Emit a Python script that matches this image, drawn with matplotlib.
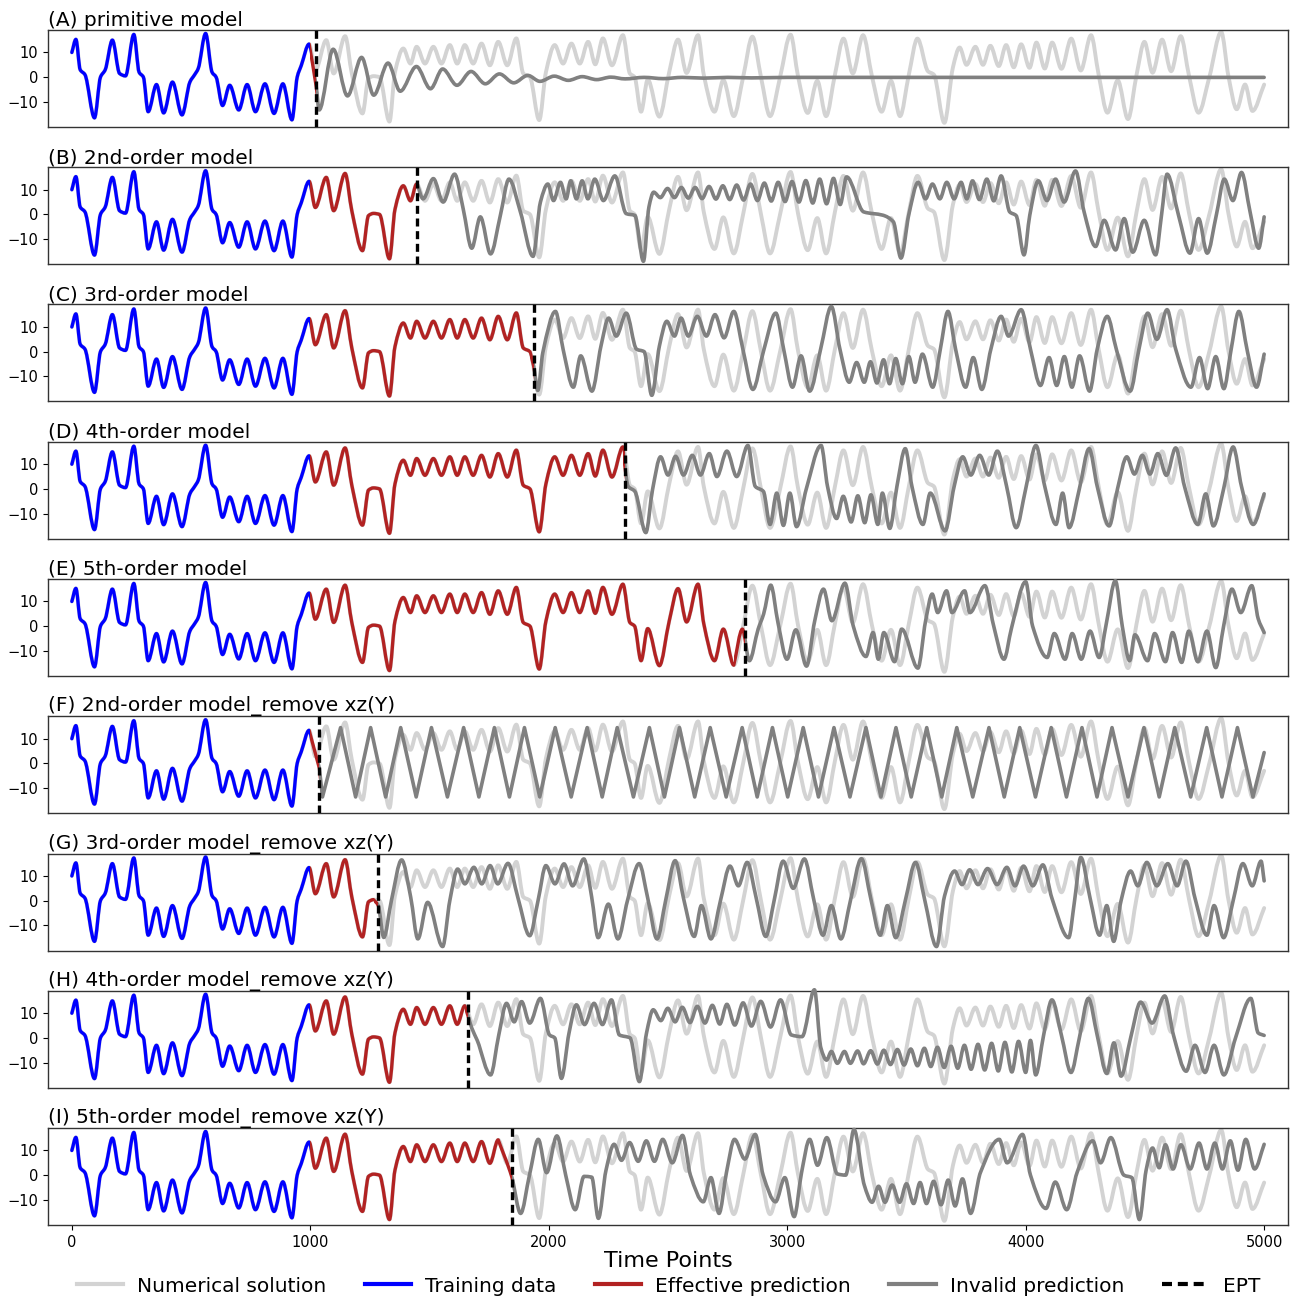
import numpy as np
import matplotlib.pyplot as plt
from matplotlib.patches import Rectangle, PathPatch
from matplotlib.path import Path
from matplotlib.lines import Line2D

# numerical solution, as (time, value) turning points
truth = [(0, 10), (17, 15.3), (35, 3), (55, 1), (95, -16.5), (120, 0), (140, 3), (170, 15), (200, 1.5), (225, 0.5),
         (260, 17.3), (282, 2), (300, 0), (320, -14), (355, -3), (385, -14.5), (422, -2), (462, -15.3), (495, -2),
         (515, 1), (530, 3.5), (561, 17.7), (588, 2), (605, 0), (632, -11.5), (662, -3.3), (700, -13.3), (735, -3),
         (770, -14), (810, -2.7), (848, -14.7), (885, -2.7), (923, -17.3), (945, 0), (962, 4.7), (995, 13.4),
         (1021, 2.8), (1067, 15), (1098, 1.5), (1146, 16.6), (1174, 1.5), (1219, -14.7), (1244, -0.5), (1265, 0.4),
         (1290, 0), (1332, -18), (1355, 2), (1390, 11.6), (1420, 5.5), (1446, 12.3), (1481, 5.5), (1516, 12.3),
         (1550, 5.5), (1585, 13), (1616, 5.5), (1648, 13), (1683, 5.5), (1718, 13.6), (1753, 4.8), (1788, 14.3),
         (1826, 4.8), (1864, 15.7), (1893, 1.5), (1921, 0), (1960, -17.4), (1988, 2), (2025, 13), (2060, 5.5),
         (2095, 13.6), (2130, 5.5), (2165, 14.3), (2195, 5.2), (2227, 15.7), (2265, 4.8), (2311, 17), (2340, 1.5),
         (2360, 0), (2387, -14), (2415, -1), (2464, -16), (2505, 2), (2542, 15.2), (2578, 1.7), (2626, 17),
         (2650, 1), (2695, -14), (2732, -1.2), (2776, -15.8), (2815, 0), (2854, 16.4), (2890, 0), (2928, -15.8),
         (2970, 0), (3014, 17.2), (3045, 0.5), (3086, -14.5), (3126, -1.5), (3163, -15.8), (3200, 1), (3236, 15.6),
         (3275, 1.5), (3318, 17), (3355, 0.5), (3396, -14), (3435, -1.5), (3473, -15.8), (3510, 1), (3546, 15.6),
         (3590, 2.4), (3615, 1), (3659, -18.5), (3695, 4), (3723, 12), (3752, 5), (3789, 12.3), (3821, 5),
         (3852, 12.7), (3887, 4.5), (3918, 13), (3950, 4), (3981, 13.3), (4016, 3.8), (4045, 14), (4080, 3.5),
         (4111, 14), (4150, 3.4), (4191, 15.6), (4231, 2.7), (4274, 17), (4305, 1.5), (4343, -14.4), (4386, -1.3),
         (4429, -17), (4465, 1), (4498, 14.3), (4532, 1.8), (4572, 15.2), (4610, 2.4), (4650, 16.6), (4685, 0.5),
         (4725, -14.4), (4770, 0), (4820, 18.3), (4850, 0.5), (4885, -13), (4920, -3), (4951, -13.7), (5000, -3)]

# model predictions per panel, from the point where they leave the numerical solution
pred_a = [(995, 13.4), (1025, -4), (1037, -13.3), (1096, 11.3), (1156, -7.6), (1215, 8), (1266, -7.3), (1326, 5.7),
          (1377, -5.7), (1445, 4.3), (1504, -4.7), (1555, 3.3), (1615, -3.3), (1674, 2.3), (1734, -2.7), (1793, 1.3),
          (1853, -2.3), (1912, 0.7), (1963, -1.7), (2023, 0.4), (2082, -1.3), (2140, 0.2), (2201, -1), (2260, 0),
          (2320, -0.7), (2400, -0.1), (2480, -0.6), (2560, -0.1), (2650, -0.4), (2750, -0.1), (2850, -0.3),
          (3000, -0.1), (5000, -0.1)]

pred_b = [(1448, 12.3), (1473, 6.3), (1516, 14.5), (1557, 5), (1605, 16.3), (1641, 2.3), (1677, -13.7), (1713, -1),
          (1756, -16), (1797, -0.4), (1833, 14.3), (1881, 1), (1934, -17), (1965, 5), (1996, 12.3), (2020, 5.6),
          (2049, 13), (2073, 6.3), (2092, 13.6), (2116, 6.3), (2140, 13.6), (2164, 6.3), (2193, 14.3), (2229, 5.6),
          (2277, 15.6), (2325, 0.3), (2361, -0.4), (2397, -19), (2420, 3), (2440, 9), (2468, 6.8), (2498, 10.5),
          (2527, 6.8), (2556, 10.9), (2585, 6.6), (2614, 10.9), (2643, 6.4), (2672, 11.3), (2701, 6.2), (2730, 11.6),
          (2759, 6), (2788, 11.9), (2817, 5.8), (2846, 12.3), (2875, 5.6), (2904, 12.7), (2933, 5.4), (2962, 13),
          (2991, 5.2), (3020, 13.3), (3049, 5), (3078, 13.7), (3107, 4.6), (3136, 14.3), (3165, 4.3), (3194, 14.6),
          (3222, 4), (3249, 15.2), (3321, 1), (3400, -0.3), (3445, -3), (3477, -17.7), (3510, 0), (3549, 13),
          (3580, 6.3), (3609, 12.3), (3640, 6.3), (3669, 13), (3700, 6.3), (3729, 13), (3753, 6.3), (3777, 13.6),
          (3806, 6), (3837, 14.3), (3866, 5.5), (3897, 15.6), (3933, 1), (3960, -0.5), (3993, -16.4), (4017, -0.4),
          (4053, 13.6), (4089, 5.6), (4125, 14.3), (4161, 5), (4209, 17.6), (4245, 1), (4293, -13), (4329, -2.4),
          (4377, -14.4), (4413, -1.7), (4449, -15.3), (4497, -2.4), (4545, -16.4), (4570, 0), (4593, 16.3),
          (4641, -0.4), (4689, -15.7), (4725, -1.7), (4761, -15.7), (4800, 0), (4833, 14.3), (4869, 5.6),
          (4905, 17), (4941, 1), (4977, -13.7), (5000, -1)]

pred_c = [(1921, 0), (1937, -6), (1954, -15.7), (1975, -0.4), (2028, 16.3), (2060, 1), (2103, -14.4), (2134, -1.7),
          (2181, -16), (2219, 2.3), (2251, 13.6), (2283, 6.3), (2325, 15.6), (2368, 1), (2400, 0), (2432, -17.7),
          (2464, 2.3), (2495, 12.3), (2527, 6.3), (2555, 13.6), (2585, 6.3), (2623, 14.3), (2661, 6.3), (2697, 15),
          (2735, 5.6), (2776, 16.3), (2814, 1), (2856, -15.3), (2900, 0), (2952, 15.6), (2985, 1), (3022, -14.4),
          (3058, -1.7), (3094, -16), (3140, 1), (3185, 18.3), (3221, 1), (3260, -12.4), (3291, -4.4), (3323, -12.4),
          (3349, -4.1), (3376, -12.7), (3404, -3.3), (3429, -13), (3455, -2.8), (3483, -13), (3510, -2),
          (3536, -12.4), (3567, -1), (3610, -14.4), (3642, 1), (3674, 16.3), (3706, 1), (3748, -14.4), (3780, -2.4),
          (3816, -15.3), (3854, 1), (3897, 14.3), (3928, 6.3), (3981, 17), (4020, 1), (4062, -13.7), (4098, -2.4),
          (4130, -13.7), (4162, -2), (4194, -14.4), (4226, -1.7), (4268, -16), (4300, 1), (4342, 14.3), (4380, 1),
          (4438, -16), (4475, 1), (4512, 15.6), (4550, 5), (4593, 17), (4629, 1), (4693, -14.4), (4729, -2.4),
          (4763, -15), (4797, -2), (4831, -15), (4860, 0), (4894, 16.3), (4930, 0), (4968, -14.4), (5000, -1)]

pred_d = [(2311, 17), (2318, 10), (2333, 1), (2361, -1), (2407, -17.7), (2435, -0.4), (2469, 13), (2500, 5.6),
          (2532, 13.2), (2565, 5.6), (2602, 13.6), (2636, 5.6), (2673, 14.3), (2705, 5), (2747, 15.3), (2788, 5),
          (2835, 17.6), (2866, 1), (2900, -1), (2928, -14.4), (2956, -1.7), (2984, -14.8), (3011, -1.7),
          (3039, -15.3), (3080, 0), (3142, 17.6), (3169, 1), (3207, -12), (3235, -3), (3268, -13.4), (3296, -2.8),
          (3325, -13.7), (3351, -2.4), (3380, -14.4), (3399, -1.7), (3430, -16), (3460, 1), (3495, 16.3), (3523, 1),
          (3569, -14.4), (3600, -1.7), (3662, -17), (3700, 1), (3736, 13), (3770, 5.6), (3807, 13.6), (3845, 5.6),
          (3881, 15.3), (3920, 1), (3960, -15.7), (4000, 0), (4043, 17.6), (4080, 1), (4127, -14.4), (4155, -1.7),
          (4182, -15.7), (4225, 0), (4266, 16.3), (4300, 1), (4350, -15), (4385, 0), (4424, 13), (4456, 6),
          (4489, 13.6), (4521, 6), (4554, 14.3), (4590, 5.5), (4629, 16.6), (4666, 1), (4722, -14.4), (4755, -2),
          (4787, -15), (4830, 0), (4870, 17), (4905, 1), (4954, -14.4), (5000, -2)]

pred_e = [(2776, -15.8), (2812, -1.2), (2841, -14), (2878, -1.2), (2901, 4.9), (2931, 16.6), (2961, 1.5),
          (2999, -13.4), (3036, -1.5), (3081, -16.2), (3115, 2), (3152, 15), (3187, 2.2), (3242, 17.4), (3277, 0),
          (3330, -12.3), (3360, -2.6), (3382, -13.4), (3405, -2.6), (3450, -14.4), (3480, -1.2), (3548, -17),
          (3580, 2), (3608, 13), (3631, 5.5), (3668, 14.3), (3691, 5.5), (3744, 14.3), (3766, 5.5), (3829, 16.4),
          (3864, 0.8), (3909, -13.4), (3940, -1), (4000, 18), (4029, 0), (4090, -12.7), (4120, -3), (4165, -13.4),
          (4195, -3), (4233, -13.4), (4270, -2), (4308, -12.7), (4338, 1), (4376, 18.4), (4405, 0), (4436, -14),
          (4458, -3.5), (4511, -14), (4541, -3), (4586, -14.4), (4616, -2.6), (4654, -14.7), (4684, -2),
          (4722, -14.4), (4760, -2), (4797, -16.8), (4830, 0), (4865, 15), (4902, 5.5), (4948, 16.4), (4975, 3),
          (5000, -2.6)]

f_peaks = [1127, 1253, 1379, 1508, 1643, 1772, 1898, 2027, 2161, 2287, 2422, 2548, 2677, 2811, 2938, 3067, 3196,
           3330, 3456, 3585, 3711, 3846, 3975, 4107, 4236, 4362, 4496, 4625, 4759, 4888]
f_troughs = [1051, 1190, 1316, 1444, 1575, 1707, 1835, 1962, 2094, 2224, 2355, 2485, 2612, 2744, 2874, 3002, 3131,
             3263, 3393, 3520, 3648, 3778, 3910, 4041, 4171, 4299, 4429, 4560, 4692, 4823, 4953]
f_peak_val = 14.5
f_trough_val = -13.6
f_start = [(995, 13.4), (1038, -2)]
f_end = [(5000, 4.4)]

pred_g = [(1265, 0.4), (1285, -2), (1308, -14.9), (1340, 0), (1383, 16.5), (1421, 1.4), (1451, -15.5), (1492, -0.7),
          (1555, -18.6), (1585, 0), (1618, 12.8), (1648, 6.8), (1686, 13.5), (1719, 6.8), (1754, 14.2), (1786, 6.8),
          (1829, 15.1), (1870, 1.4), (1920, -14.2), (1955, 0), (1988, 14.2), (2026, 6.8), (2064, 14.9), (2100, 6),
          (2147, 16.9), (2180, 1.4), (2207, -15), (2250, -1.4), (2290, -15.5), (2330, 0), (2379, 15), (2415, 1),
          (2454, -15.5), (2490, 0), (2530, 16.2), (2565, 1), (2610, -14.5), (2640, -2), (2680, -15.5), (2720, 0),
          (2760, 14), (2795, 6), (2832, 15.5), (2870, 1), (2910, -14.5), (2945, 0), (2983, 16), (3025, 5),
          (3072, 16.9), (3110, 1), (3150, -14), (3185, -2), (3225, -15.5), (3265, 0), (3311, 17), (3350, 1),
          (3390, -14), (3420, -2), (3455, -15), (3495, 0), (3538, 15.5), (3575, 1), (3626, -18.6), (3660, 2),
          (3702, 12), (3733, 6.5), (3765, 12.5), (3800, 6.5), (3840, 13), (3880, 6.5), (3921, 13.5), (3955, 6),
          (3991, 14), (4030, 6), (4072, 14.5), (4110, 1), (4180, -15), (4205, 0), (4231, 17.5), (4270, 1),
          (4310, -14), (4340, -2), (4369, -16.5), (4400, 0), (4440, 12), (4470, 6), (4508, 15.5), (4550, 6),
          (4596, 15), (4635, 6), (4672, 16), (4710, 1), (4760, -14), (4790, -2), (4830, -15), (4870, 0), (4911, 15),
          (4950, 6), (4987, 16), (5000, 8)]

pred_h = [(1648, 13), (1661, 9), (1677, 4), (1700, -1), (1756, -15), (1790, 1), (1823, 14), (1855, 6.5), (1886, 14.7),
          (1920, 6), (1965, 16), (2003, 1.2), (2025, 0), (2053, -16.4), (2085, 2), (2116, 13.4), (2150, 5.4),
          (2190, 14), (2225, 5.4), (2263, 15.4), (2296, 1.2), (2341, 0), (2380, -17.7), (2410, 2), (2438, 11.4),
          (2470, 7), (2499, 12), (2530, 6.5), (2560, 12.4), (2592, 6.2), (2623, 12.8), (2655, 6), (2686, 13.2),
          (2717, 5.6), (2747, 13.6), (2780, 5.2), (2815, 14.2), (2850, 4.8), (2889, 14.8), (2930, 4.4), (2972, 15.4),
          (3017, 1.2), (3062, 0.5), (3114, 19.5), (3141, -4), (3165, -9), (3185, -5.5), (3210, -10.3), (3240, -5.5),
          (3265, -10.3), (3295, -5.3), (3320, -10.5), (3350, -5.2), (3378, -10.6), (3405, -5), (3433, -10.8),
          (3462, -4.7), (3490, -11), (3518, -4.5), (3546, -11.3), (3575, -4.2), (3602, -11.6), (3630, -3.8),
          (3658, -12), (3687, -3.4), (3715, -12.3), (3743, -3), (3771, -12.7), (3800, -2.6), (3828, -13),
          (3857, -2.2), (3885, -13.4), (3913, -1.8), (3942, -13.8), (3970, -1.4), (4000, -14), (4020, -1),
          (4042, -15), (4075, 1), (4110, 15.4), (4150, 1), (4190, -14), (4225, 0), (4263, 16), (4300, 1),
          (4340, -14.4), (4370, -2), (4400, -15.5), (4440, 0), (4482, 14.5), (4530, 6), (4583, 17), (4620, 1),
          (4673, -13.5), (4710, -3), (4752, -14), (4790, -3), (4831, -15), (4880, 0), (4944, 16), (4975, 2),
          (5000, 1)]

pred_i = [(1788, 14.3), (1845, -0.8), (1882, -15.5), (1919, 0), (1956, 14.5), (1991, 1), (2034, 15.9), (2071, 0),
          (2111, -14), (2148, -0.5), (2180, -0.8), (2208, -17.5), (2240, 2), (2274, 12.5), (2305, 6), (2339, 13.2),
          (2375, 5.6), (2409, 13.9), (2443, 5.6), (2478, 14.5), (2518, 5), (2561, 16.1), (2594, 0), (2648, -10.8),
          (2680, -1), (2714, -15.5), (2745, 1), (2779, 14.5), (2822, 6.5), (2866, 16.5), (2899, 0), (2951, -10.8),
          (2990, -1), (3029, -16.8), (3060, 1), (3094, 14.5), (3127, 4), (3166, 15.2), (3210, 0.5), (3245, 0),
          (3280, 18.5), (3323, -4), (3356, -11), (3383, -4.5), (3410, -11), (3440, -4), (3471, -11), (3500, -3.5),
          (3530, -11.5), (3557, -3), (3584, -11.5), (3614, -2.5), (3645, -12), (3675, -2), (3704, -12.5),
          (3735, -1.5), (3769, -15.5), (3810, 1), (3889, 14.5), (3922, 5), (3987, 16.5), (4020, 0), (4085, -13.5),
          (4124, -2.8), (4172, -14), (4216, 1.2), (4281, 13.9), (4314, 5), (4357, 15.2), (4412, 0), (4445, -1),
          (4477, -18), (4505, 2), (4532, 11), (4560, 3), (4586, 12.3), (4618, 2.5), (4651, 12.3), (4690, 2.5),
          (4727, 13), (4760, 2.5), (4793, 13), (4825, 2.5), (4858, 13.9), (4890, 2), (4923, 14.5), (4960, 2.5),
          (5000, 12.5)]

# F is a regular zigzag: merge peaks and troughs in time order
f_pts = [(t, f_peak_val) for t in f_peaks] + [(t, f_trough_val) for t in f_troughs]
pred_f = f_start + sorted(f_pts) + f_end

ept = [1025, 1448, 1937, 2318, 2824, 1038, 1285, 1661, 1845]
train_end = 1000
titles = ["(A) primitive model", "(B) 2nd-order model", "(C) 3rd-order model", "(D) 4th-order model",
          "(E) 5th-order model", "(F) 2nd-order model_remove xz(Y)", "(G) 3rd-order model_remove xz(Y)",
          "(H) 4th-order model_remove xz(Y)", "(I) 5th-order model_remove xz(Y)"]
preds = [pred_a, pred_b, pred_c, pred_d, pred_e, pred_f, pred_g, pred_h, pred_i]
smooth_pred = [True, True, True, True, True, False, True, True, True]

c_num = '#d3d3d3'
c_train = '#0000ff'
c_eff = '#b22222'
c_inv = '#808080'


def curve(pts, smooth=True):
    # bezier path through the turning points, flat tangents at the extrema
    p = np.asarray(pts, float)
    x, y = p[:, 0], p[:, 1]
    if not smooth:
        return Path(p)
    d = np.diff(y) / np.diff(x)
    m = np.zeros(len(x))
    m[0], m[-1] = d[0], d[-1]
    for i in range(1, len(x) - 1):
        if d[i - 1] * d[i] > 0:
            m[i] = 2 / (1 / d[i - 1] + 1 / d[i])
    verts = [p[0]]
    codes = [Path.MOVETO]
    for i in range(len(x) - 1):
        h = x[i + 1] - x[i]
        verts += [(x[i] + h / 3, y[i] + m[i] * h / 3), (x[i + 1] - h / 3, y[i + 1] - m[i + 1] * h / 3), p[i + 1]]
        codes += [Path.CURVE4] * 3
    return Path(verts, codes)


def draw(ax, path, color, lw, z, lo=None, hi=None):
    pp = PathPatch(path, fill=False, edgecolor=color, lw=lw, zorder=z, capstyle='round', joinstyle='round')
    ax.add_patch(pp)
    if lo is not None:
        pp.set_clip_path(Rectangle((lo, -100), max(hi - lo, 0), 200, transform=ax.transData))


W, H = 1303, 1301
fig = plt.figure(figsize=(W / 100, H / 100), dpi=100)

truth_path = curve(truth)
for k in range(9):
    top = 30 + k * 137.25
    ax = fig.add_axes([48 / W, 1 - (top + 97) / H, 1240 / W, 97 / H])
    t0 = preds[k][0][0]
    pred_path = curve(preds[k], smooth_pred[k])
    draw(ax, truth_path, c_num, 2.8, 1)
    draw(ax, truth_path, c_train, 2.4, 2, -500, train_end)
    draw(ax, truth_path, c_eff, 2.4, 2, train_end, max(train_end, t0))
    draw(ax, pred_path, c_eff, 2.4, 2, max(train_end, t0), ept[k])
    draw(ax, pred_path, c_inv, 2.6, 3, ept[k], 5200)
    ax.axvline(ept[k], color='black', lw=2.4, dashes=(2.4, 1.4), zorder=4)
    ax.set_xlim(-100, 5100)
    ax.set_ylim(-20.2, 19.1)
    ax.set_yticks([-10, 0, 10])
    ax.tick_params(labelsize=10.5, length=3.5)
    ax.set_title(titles[k], loc='left', fontsize=14.5, pad=3)
    for s in ax.spines.values():
        s.set_color('#333333')
        s.set_linewidth(1)
    if k < 8:
        ax.tick_params(axis='x', bottom=False, labelbottom=False)
    else:
        ax.set_xticks([0, 1000, 2000, 3000, 4000, 5000])
        ax.set_xlabel("Time Points", fontsize=16, labelpad=1)

handles = [Line2D([], [], color=c_num, lw=3), Line2D([], [], color=c_train, lw=3),
           Line2D([], [], color=c_eff, lw=3), Line2D([], [], color=c_inv, lw=3),
           Line2D([], [], color='black', lw=3, dashes=(2.4, 1.4))]
labels = ["Numerical solution", "Training data", "Effective prediction", "Invalid prediction", "EPT"]
fig.legend(handles, labels, loc='center', bbox_to_anchor=(0.513, 1 - 1286 / H), ncol=5, frameon=False,
           fontsize=14.5, handlelength=2.3, handletextpad=0.7, columnspacing=1.9)

fig.savefig("out.png", dpi=100)
